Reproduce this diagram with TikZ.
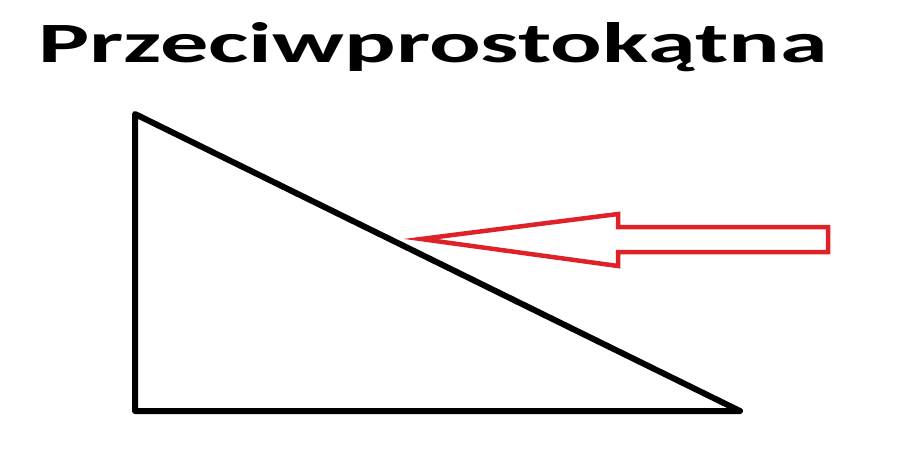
\documentclass[tikz,border=0pt]{standalone}
\usepackage{fontspec}
\setmainfont{Carlito}
\usetikzlibrary{positioning}
\definecolor{arrowred}{RGB}{222,34,42}

\begin{document}
\begin{tikzpicture}[x=1pt, y=-1pt,
    side/.style={line width=6pt, line join=round},
    pointer/.style={draw=arrowred, line width=4.5pt, line join=miter}]
  \useasboundingbox (0,0) rectangle (904,464);
  \node[font=\bfseries\fontsize{57}{60}\selectfont, anchor=base west, inner sep=0pt]
    (title) at (38,62) {\scalebox{1.69}[1]{Przeciwprostokątna}};
  % right triangle
  \coordinate (top)   at (135,114);
  \coordinate (left)  at (135,411);
  \coordinate (right) at (740,411);
  \draw[side] (top) -- (left) -- (right) -- cycle;
  % arrow pointing at the hypotenuse
  \coordinate (tip) at (421,239);
  \draw[pointer] (tip) -- (618,214) -- (618,227) -- (828,227)
    -- (828,252) -- (618,252) -- (618,266) -- cycle;
\end{tikzpicture}
\end{document}
